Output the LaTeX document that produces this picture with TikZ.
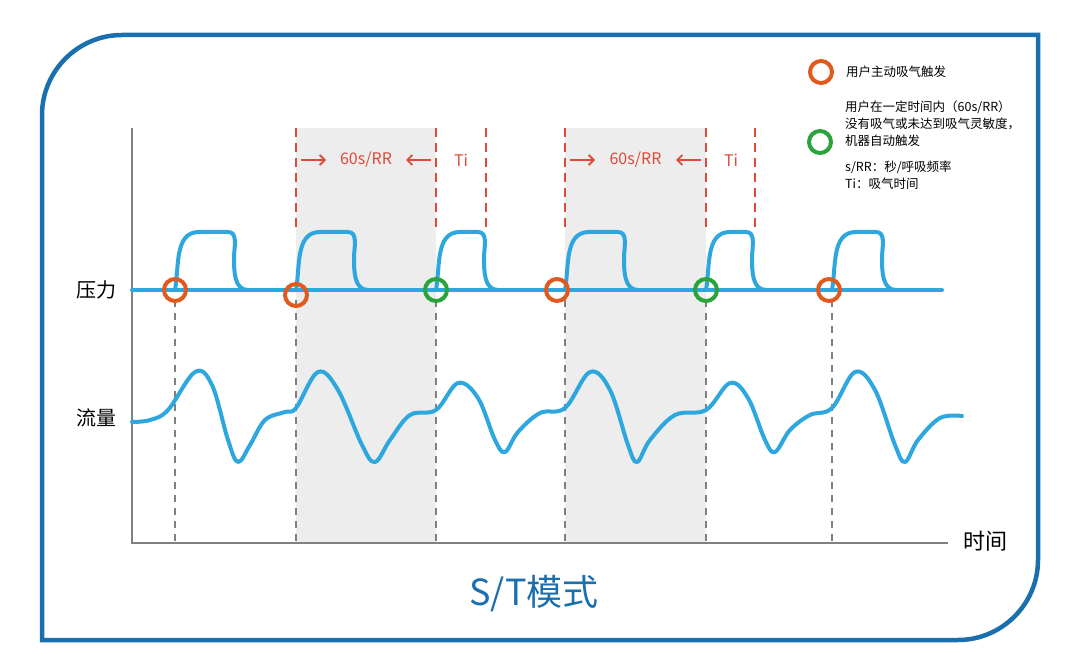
\documentclass[tikz,border=0pt]{standalone}
\usepackage{fontspec}
\setmainfont{Noto Sans CJK SC}
\usetikzlibrary{positioning}
\definecolor{wave}{HTML}{2EA7DF}
\definecolor{frameblue}{HTML}{1A6FAF}
\definecolor{trigorange}{HTML}{E05A1E}
\definecolor{triggreen}{HTML}{2AA33C}
\definecolor{markred}{HTML}{E04A3A}
\tikzset{
  waveline/.style={wave, line width=4pt, line cap=round, line join=round},
  usertrig/.style={circle, draw=trigorange, line width=4pt, minimum size=22pt, inner sep=0pt},
  autotrig/.style={circle, draw=triggreen, line width=4pt, minimum size=22pt, inner sep=0pt},
  guide/.style={gray, dashed, line width=1.2pt, dash pattern=on 7pt off 6pt},
  redguide/.style={markred, line width=1.5pt, dash pattern=on 9pt off 6pt},
  redarrow/.style={markred, line width=1.8pt, -{Straight Barb[length=5pt,width=10pt]}},
  legendtext/.style={anchor=west, font=\fontsize{12.5}{17}\selectfont, align=left, inner sep=0pt}
}
\usetikzlibrary{arrows.meta}
\begin{document}
\begin{tikzpicture}[x=1pt, y=-1pt]
\useasboundingbox (0,0) rectangle (1080,671);
% frame
\draw[frameblue, line width=4.5pt] (42,640) -- (42,115) .. controls (42,71) and (78,35) .. (122,35) -- (1038,35) -- (1038,560) .. controls (1038,604) and (1002,640) .. (958,640) -- cycle;
% shaded intervals
\fill[black!7] (296,128) rectangle (436,543);
\fill[black!7] (565,128) rectangle (706,543);
% axes
\draw[gray, line width=1.5pt] (132,128) -- (132,543) -- (948,543);
\node (time) at (985,541) {\fontsize{22}{22}\selectfont 时间};
\node (title) at (534,594) {\textcolor{frameblue}{\fontsize{36}{36}\selectfont S/T模式}};
\node (pres) at (96,290) {\fontsize{20}{20}\selectfont 压力};
\node (flow) at (96,418) {\fontsize{20}{20}\selectfont 流量};
% guides
\foreach \x in {175,296,436,565,706,832}
  \draw[guide] (\x,300) -- (\x,543);
\foreach \x in {296,436,486,565,706,755}
  \draw[redguide] (\x,128) -- (\x,232);
\foreach \x/\t in {296/436,565/706}{
  \draw[redarrow] (\x+5,160) -- (\x+30,160);
  \draw[redarrow] (\t-5,160) -- (\t-30,160);
  \node[markred] at ({(\x+\t)/2},160) {\fontsize{16}{16}\selectfont 60s/RR};
  \node[markred] at (\t+25,160) {\fontsize{16}{16}\selectfont Ti};
}
% pressure
\draw[waveline] (132,290) -- (942,290);
\foreach \s/\e in {175/228,296/348,436/478,565/618,706/746,832/876}
  \draw[waveline] (\s,290) to[out=80,in=180] (\s+24,232) -- (\e,232)
    to[out=0,in=90] (\e+6,258) to[out=-90,in=180] (\e+20,290);
% flow
\draw[waveline] plot[smooth, tension=0.6] coordinates {(132,422) (150,420) (168,410) (195,372) (212,385) (228,440) (238,462) (250,445) (265,420) (285,412) (296,408) (318,372) (338,390) (362,445) (375,462) (390,440) (410,415) (436,410) (458,383) (478,398) (495,440) (505,452) (518,432) (540,413) (565,408) (590,372) (610,390) (628,445) (637,462) (650,440) (675,415) (706,410) (730,383) (748,398) (765,440) (775,452) (790,430) (810,415) (832,408) (855,372) (875,390) (895,445) (905,462) (918,440) (940,418) (962,416)};
% triggers
\foreach \x/\y in {175/290,296/295,557/290,829/290}
  \node[usertrig] at (\x,\y) {};
\foreach \x in {436,706}
  \node[autotrig] at (\x,290) {};
% legend
\node[usertrig] (leguser) at (821,72) {};
\node[legendtext, right=12pt of leguser] {用户主动吸气触发};
\node[autotrig] (legauto) at (820,142) {};
\node[legendtext, anchor=north west] at (845,101) {用户在一定时间内（60s/RR）\\没有吸气或未达到吸气灵敏度，\\机器自动触发};
\node[legendtext, anchor=north west] at (845,161) {s/RR：秒/呼吸频率\\Ti：吸气时间};
\end{tikzpicture}
\end{document}
